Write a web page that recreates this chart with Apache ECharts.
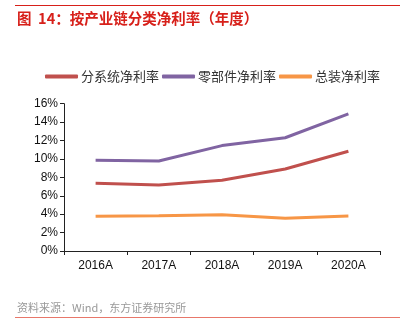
<!DOCTYPE html>
<html><head><meta charset="utf-8">
<script src="https://cdn.jsdelivr.net/npm/echarts@6/dist/echarts.min.js"></script>
<style>html,body{margin:0;padding:0;background:#fff}#c{width:408px;height:322px}</style>
</head><body><div id="c"></div>
<script>
var categories = ['2016A','2017A','2018A','2019A','2020A'];
var seriesNames = ['分系统净利率','零部件净利率','总装净利率'];
var fenxitong = [7.35, 7.17, 7.68, 8.9, 10.83];
var lingbujian = [9.85, 9.78, 11.45, 12.3, 14.9];
var zongzhuang = [3.77, 3.84, 3.95, 3.55, 3.8];
var yTicks = [0,2,4,6,8,10,12,14,16];
var colors = ['#C0504D','#8064A2','#F79646'];

var chart = echarts.init(document.getElementById('c'), null, {renderer:'canvas'});
var font = '"Liberation Sans", Arial, "Noto Sans CJK SC", sans-serif';
var cjk = '"Noto Sans CJK SC", sans-serif';
var data = [fenxitong, lingbujian, zongzhuang];
chart.setOption({
  animation:false,
  color: colors,
  legend: {
    top: 65, left: 40, itemWidth: 33, itemHeight: 4, itemGap: 3,
    icon: 'roundRect',
    textStyle: {fontFamily: cjk, fontSize: 13, color: '#333', padding: [0,0,0,-2]},
    data: seriesNames
  },
  grid: {left: 64, right: 28, top: 103.7, bottom: 71, containLabel: false},
  xAxis: {
    type: 'category', data: categories, boundaryGap: true,
    axisLine: {lineStyle: {color: '#222', width: 1}},
    axisTick: {show: true, length: 4, lineStyle: {color: '#222'}},
    axisLabel: {color: '#111', fontFamily: font, fontSize: 12, margin: 9}
  },
  yAxis: {
    type: 'value', min: yTicks[0], max: yTicks[yTicks.length-1], interval: 2,
    axisLine: {show: true, lineStyle: {color: '#222', width: 1}},
    axisTick: {show: true, length: 4, lineStyle: {color: '#222'}},
    splitLine: {show: false},
    axisLabel: {color: '#111', fontFamily: font, fontSize: 12, margin: 6, formatter: '{value}%'}
  },
  series: seriesNames.map(function(n,i){
    return {name: n, type: 'line', data: data[i], symbol: 'none',
      lineStyle: {width: 3, color: colors[i]}};
  }),
  graphic: [
    {type:'rect', shape:{x:15, y:5, width:385, height:1}, style:{fill:'#D7201A'}},
    {type:'text', left: 17, top: 11, style:{text:'图  14：按产业链分类净利率（年度）', fill:'#D7201A', font:'bold 14.5px "Noto Sans CJK SC", sans-serif'}},
    {type:'text', left: 17, top: 302, style:{text:'资料来源：Wind，东方证券研究所', fill:'#999', font:'11px "Noto Sans CJK SC", sans-serif'}},
    {type:'rect', shape:{x:15, y:317, width:385, height:1}, style:{fill:'#E8776A'}}
  ]
});
</script></body></html>
